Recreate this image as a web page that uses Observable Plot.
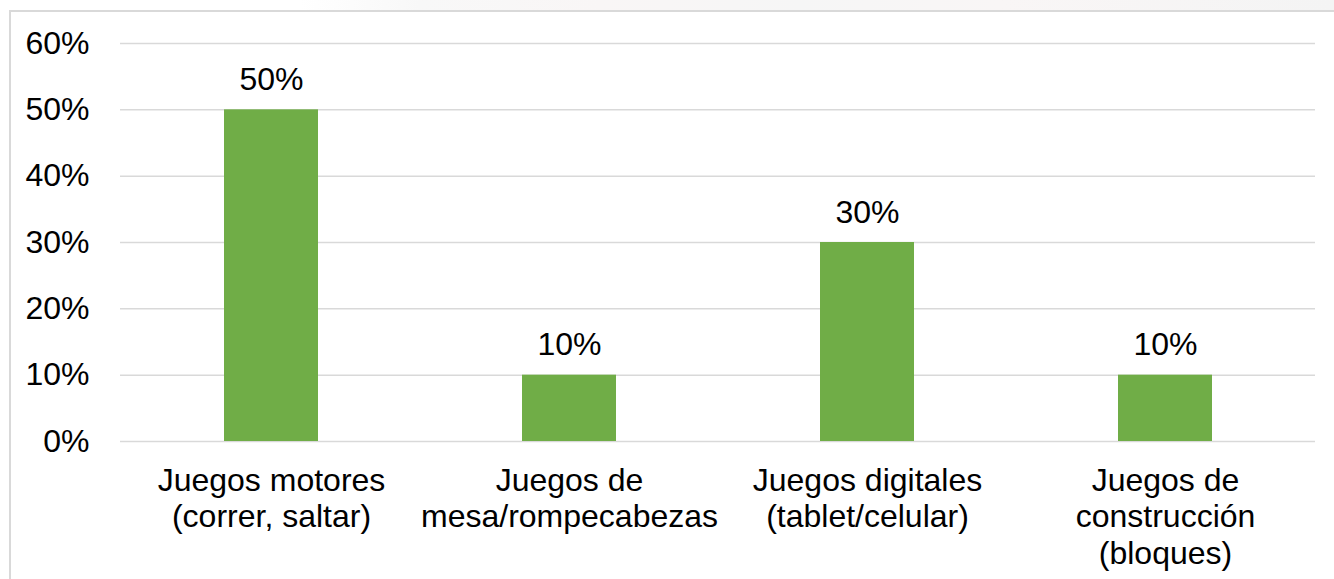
<!DOCTYPE html>
<html>
<head>
<meta charset="utf-8">
<script src="https://cdn.jsdelivr.net/npm/d3@7"></script>
<script src="https://cdn.jsdelivr.net/npm/@observablehq/plot@0.6"></script>
<style>
  html, body { margin: 0; padding: 0; background: #fff; }
  #wrap { position: relative; width: 1334px; height: 579px; overflow: hidden; font-family: "Liberation Sans", Arial, sans-serif; }
  #topstrip { position: absolute; left: 0; top: 0; width: 1334px; height: 10px;
    background: linear-gradient(to right, #ffffff 0px, #ffffff 300px, #f8f8f8 420px, #f9f6f6 600px, #f6f6f6 800px, #f9f6f6 1000px, #f4f4f4 1334px); }
  #frame { position: absolute; left: 9px; top: 10px; width: 1400px; height: 700px; border: 2px solid #d9d9d9; box-sizing: border-box; }
  #chart { position: absolute; left: 0; top: 0; }
</style>
</head>
<body>
<div id="wrap">
  <div id="topstrip"></div>
  <div id="frame"></div>
  <div id="chart"></div>
</div>
<script>
const categories = [
  "Juegos motores\n(correr, saltar)",
  "Juegos de\nmesa/rompecabezas",
  "Juegos digitales\n(tablet/celular)",
  "Juegos de\nconstrucción\n(bloques)"
];
const values = [0.50, 0.10, 0.30, 0.10];
const yTicks = [0, 0.1, 0.2, 0.3, 0.4, 0.5, 0.6];

const data = categories.map((c, i) => ({cat: c, val: values[i]}));
const pct = d3.format(".0%");

const chart = Plot.plot({
  width: 1334,
  height: 579,
  marginLeft: 120,
  marginRight: 19,
  marginTop: 43,
  marginBottom: 138,
  style: {fontFamily: "'Liberation Sans', Arial, sans-serif", fontSize: "32px", color: "#000", background: "transparent", overflow: "visible"},
  x: {domain: categories, paddingInner: 0.685, paddingOuter: 0.3425, axis: null},
  y: {domain: [0, 0.6], axis: null},
  marks: [
    Plot.gridY(yTicks, {stroke: "#d9d9d9", strokeOpacity: 1, strokeWidth: 1.5}),
    Plot.barY(data, {x: "cat", y: "val", fill: "#70AD47"}),
    Plot.axisY(yTicks, {tickSize: 0, tickPadding: 31, tickFormat: pct, fontSize: 32, fill: "#000", label: null}),
    Plot.axisX({tickSize: 0, tickPadding: 23, fontSize: 32, lineHeight: 1.15, fill: "#000", label: null}),
    Plot.text(data, {x: "cat", y: "val", text: d => pct(d.val), dy: -30, fontSize: 32, fill: "#000"})
  ]
});
document.getElementById("chart").appendChild(chart);
</script>
</body>
</html>
